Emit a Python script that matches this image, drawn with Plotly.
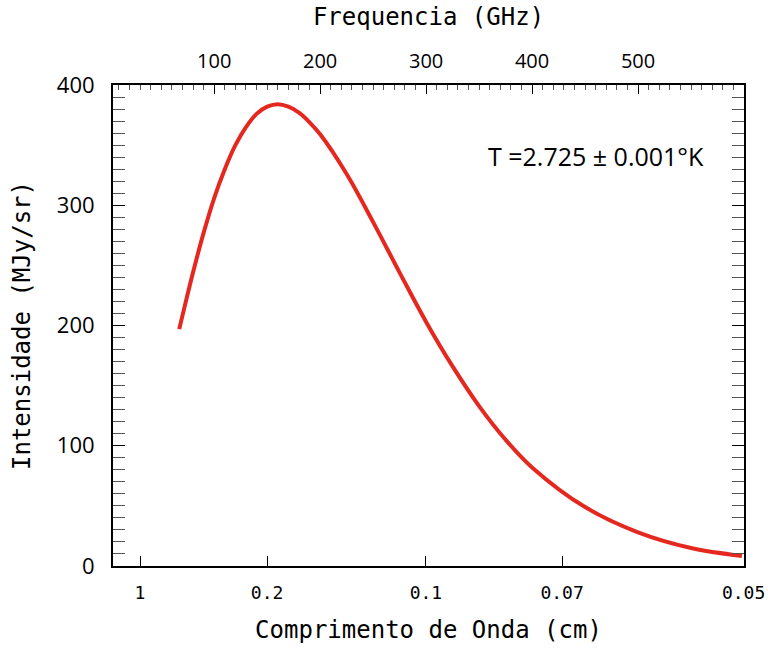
import plotly.graph_objects as go

# Frequency (GHz) and intensity (MJy/sr)
freq_ghz = [67, 70, 80, 90, 100, 110, 120, 130, 140, 150, 160, 170, 180, 190, 200,
            225, 250, 275, 300, 325, 350, 375, 400, 450, 500, 550, 598]
intensity = [197, 208, 244, 277, 306, 330, 350, 365, 376, 382, 384, 382, 377, 369, 359,
             326, 286, 244, 203, 166, 133, 105, 82, 49, 28, 15, 8.4]

wavelength_ticks = [1, 0.2, 0.1, 0.07, 0.05]          # cm
wavelength_labels = ["1", "0.2", "0.1", "0.07", "0.05"]
freq_ticks = [100, 200, 300, 400, 500]
C_GHZ_CM = 29.98
wl_pos = [C_GHZ_CM / w for w in wavelength_ticks]

x_range = [4.5, 600]
y_range = [0, 400]

mono = "DejaVu Sans Mono"
sans = "Open Sans"

fig = go.Figure()
fig.add_trace(go.Scatter(x=freq_ghz, y=intensity, mode="lines",
                         line=dict(color="#e5281f", width=4, shape="spline"),
                         showlegend=False))
fig.add_trace(go.Scatter(x=freq_ghz, y=intensity, mode="lines", xaxis="x2",
                         line=dict(color="rgba(0,0,0,0)", width=0),
                         hoverinfo="skip", showlegend=False))

fig.update_layout(
    width=768, height=648,
    margin=dict(l=113, r=24, t=85, b=82),
    paper_bgcolor="white", plot_bgcolor="white",
    xaxis=dict(range=x_range, tickvals=wl_pos, ticktext=wavelength_labels,
               automargin=False,
               ticks="inside", ticklen=10, tickwidth=1, tickcolor="black",
               showline=True, linecolor="black", linewidth=2, mirror=False,
               showgrid=False, zeroline=False,
               tickfont=dict(family=mono, size=18, color="black"),
               ticklabelstandoff=9,
               title=dict(text="Comprimento de Onda (cm)",
                          font=dict(family=mono, size=24, color="black"),
                          standoff=20)),
    xaxis2=dict(range=x_range, overlaying="x", side="top", anchor="y",
                automargin=False,
                tickvals=freq_ticks, ticks="inside", ticklen=9, tickwidth=1,
                tickcolor="black",
                minor=dict(dtick=10, tick0=0, ticks="inside", ticklen=5,
                           tickcolor="#555555", tickwidth=1),
                showline=True, linecolor="black", linewidth=2,
                showgrid=False, zeroline=False,
                tickfont=dict(family=sans, size=20, color="black"),
                ticklabelstandoff=7,
                title=dict(text="Frequencia (GHz)",
                           font=dict(family=mono, size=24, color="black"),
                           standoff=15)),
    yaxis=dict(range=y_range, dtick=100, tick0=0, automargin=False,
               ticks="inside", ticklen=12, tickwidth=1, tickcolor="black",
               minor=dict(dtick=10, tick0=0, ticks="inside", ticklen=6,
                          tickcolor="#555555", tickwidth=1),
               showline=True, linecolor="black", linewidth=2, mirror="allticks",
               showgrid=False, zeroline=False,
               tickfont=dict(family=sans, size=22, color="black"),
               ticklabelstandoff=12,
               title=dict(text="Intensidade (MJy/sr)",
                          font=dict(family=mono, size=24, color="black"),
                          standoff=19)),
    annotations=[dict(x=460, y=341, xref="x", yref="y",
                      text="T =2.725 ± 0.001°K", showarrow=False,
                      font=dict(family=sans, size=25, color="black"))],
)

fig.write_html("out.html",
               config={"displayModeBar": False},
               post_script="document.body.style.margin='0';document.body.style.overflow='hidden';")
